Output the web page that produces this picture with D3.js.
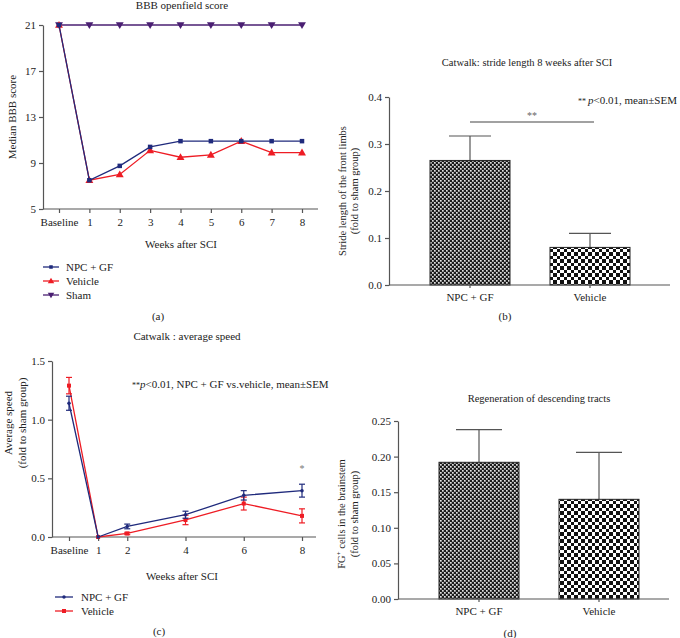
<!DOCTYPE html>
<html><head><meta charset="utf-8">
<script src="https://cdn.jsdelivr.net/npm/d3@7"></script>
<style>
html,body{margin:0;padding:0;background:#fff;}
svg text{font-family:"Liberation Serif","DejaVu Serif",serif;fill:#222;}
</style></head>
<body><svg id="c" width="680" height="638"></svg>
<script>
// ---------- DATA ----------
// Panel (a) BBB openfield score
const bbbWeeks = [0,1,2,3,4,5,6,7,8];
const bbbTickLabels = ["Baseline","1","2","3","4","5","6","7","8"];
const bbbNPC = [21,7.5,8.75,10.4,10.9,10.9,10.9,10.9,10.9];
const bbbVehicle = [21,7.5,8.0,10.1,9.5,9.7,10.9,9.9,9.9];
const bbbSham = [21,21,21,21,21,21,21,21,21];
const bbbYTicks = [5,9,13,17,21];

// Panel (b) stride length
const strideCats = ["NPC + GF","Vehicle"];
const strideMean = [0.265,0.08];
const strideSEM = [0.052,0.03];
const strideYTicks = [0,0.1,0.2,0.3,0.4];

// Panel (c) average speed
const speedWeeks = [0,1,2,4,6,8];
const speedTickLabels = ["Baseline","1","2","4","6","8"];
const speedNPC = [1.14,0,0.09,0.19,0.355,0.395];
const speedNPCsem = [0.06,0,0.02,0.03,0.04,0.055];
const speedVeh = [1.29,0,0.03,0.145,0.285,0.18];
const speedVehSem = [0.07,0,0.01,0.04,0.055,0.06];
const speedYTicks = [0,0.5,1.0,1.5];

// Panel (d) regeneration
const regenCats = ["NPC + GF","Vehicle"];
const regenMean = [0.192,0.14];
const regenSEM = [0.046,0.066];
const regenYTicks = [0,0.05,0.10,0.15,0.20,0.25];

// ---------- STYLE ----------
const cNPC = "#1f2a7c", cVeh = "#ee1c24", cSham = "#4a1f72";
const axisCol = "#555";
const svg = d3.select("#c");

const defs = svg.append("defs");
const pFine = defs.append("pattern").attr("id","pFine").attr("patternUnits","userSpaceOnUse").attr("width",4).attr("height",4);
pFine.append("rect").attr("width",4).attr("height",4).attr("fill","#1c1c1c");
pFine.append("rect").attr("x",0).attr("y",0).attr("width",1.7).attr("height",1.7).attr("fill","#e0e0e0");
pFine.append("rect").attr("x",2).attr("y",2).attr("width",1.7).attr("height",1.7).attr("fill","#e0e0e0");
const pCoarse = defs.append("pattern").attr("id","pCoarse").attr("patternUnits","userSpaceOnUse").attr("width",7).attr("height",7);
pCoarse.append("rect").attr("width",7).attr("height",7).attr("fill","#fff");
pCoarse.append("rect").attr("x",0).attr("y",0).attr("width",4).attr("height",4).attr("fill","#111");
pCoarse.append("rect").attr("x",4).attr("y",4).attr("width",3).attr("height",3).attr("fill","#111");

function styleAxis(g){
  g.selectAll("path,line").attr("stroke",axisCol).attr("stroke-width",1.2);
  g.selectAll("text").attr("fill","#222").style("font-size","11px").style("font-family","Liberation Serif, serif");
}
function text(x,y,s,opts={}){
  const t = svg.append("text").attr("x",x).attr("y",y).text(s)
    .style("font-size",(opts.size||11)+"px").attr("text-anchor",opts.anchor||"middle");
  if(opts.rot) t.attr("transform",`rotate(-90,${x},${y})`);
  return t;
}
function marker(g, type, x, y, col, s){
  if(type==="square") g.append("rect").attr("x",x-s/2).attr("y",y-s/2).attr("width",s).attr("height",s).attr("fill",col);
  else if(type==="circle") g.append("circle").attr("cx",x).attr("cy",y).attr("r",s/2).attr("fill",col);
  else if(type==="tri") g.append("path").attr("d",d3.symbol(d3.symbolTriangle, s*s*0.9)()).attr("transform",`translate(${x},${y+0.5})`).attr("fill",col);
  else if(type==="triDown") g.append("path").attr("d",d3.symbol(d3.symbolTriangle, s*s*0.9)()).attr("transform",`translate(${x},${y-0.5}) rotate(180)`).attr("fill",col);
}

// ---------- PANEL A ----------
(function(){
  const x = d3.scaleLinear().domain([0,8]).range([59,302]);
  const y = d3.scaleLinear().domain([5,21]).range([209,25]);
  const ax = svg.append("g").attr("transform","translate(0,209)")
    .call(d3.axisBottom(x).tickValues(bbbWeeks).tickFormat((d,i)=>bbbTickLabels[i]).tickSize(4).tickPadding(5));
  ax.select(".domain").remove();
  ax.append("line").attr("x1",43).attr("x2",318).attr("y1",0).attr("y2",0);
  styleAxis(ax);
  const ay = svg.append("g").attr("transform","translate(43,0)")
    .call(d3.axisLeft(y).tickValues(bbbYTicks).tickSize(4).tickSizeOuter(0).tickPadding(3));
  styleAxis(ay);
  const line = d3.line().x((d,i)=>x(bbbWeeks[i])).y(d=>y(d));
  const g = svg.append("g");
  [[bbbSham,cSham,"triDown",5.5],[bbbVehicle,cVeh,"tri",5.5],[bbbNPC,cNPC,"square",4.5]].forEach(([vals,col,m,s])=>{
    g.append("path").datum(vals).attr("d",line).attr("fill","none").attr("stroke",col).attr("stroke-width",1.3);
    vals.forEach((v,i)=>marker(g,m,x(bbbWeeks[i]),y(v),col,s));
  });
  text(182,9,"BBB openfield score");
  text(16,117,"Median BBB score",{rot:true});
  text(181,248,"Weeks after SCI");
  const leg = [["NPC + GF",cNPC,"square",3.5],["Vehicle",cVeh,"tri",4.5],["Sham",cSham,"triDown",4.5]];
  leg.forEach(([n,col,m,s],i)=>{
    const yy = 267+i*14;
    svg.append("line").attr("x1",43).attr("x2",59).attr("y1",yy).attr("y2",yy).attr("stroke",col).attr("stroke-width",1.3);
    marker(svg,m,51,yy,col,s);
    text(66,yy+4,n,{anchor:"start"});
  });
  text(158,320,"(a)");
})();

// ---------- PANEL B ----------
(function(){
  const x = d3.scaleBand().domain(strideCats).range([410,650]).paddingInner(1/3).paddingOuter(1/6);
  const y = d3.scaleLinear().domain([0,0.4]).range([285,97]);
  const g = svg.append("g");
  strideCats.forEach((c,i)=>{
    const cx = x(c)+x.bandwidth()/2;
    g.append("line").attr("x1",cx).attr("x2",cx).attr("y1",y(strideMean[i])).attr("y2",y(strideMean[i]+strideSEM[i])).attr("stroke","#555").attr("stroke-width",1.2);
    g.append("line").attr("x1",cx-21).attr("x2",cx+21).attr("y1",y(strideMean[i]+strideSEM[i])).attr("y2",y(strideMean[i]+strideSEM[i])).attr("stroke","#555").attr("stroke-width",1.2);
    g.append("rect").attr("x",x(c)).attr("y",y(strideMean[i])).attr("width",x.bandwidth()).attr("height",y(0)-y(strideMean[i]))
      .attr("fill",i===0?"url(#pFine)":"url(#pCoarse)").attr("stroke","#222").attr("stroke-width",1);
  });
  const ax = svg.append("g").attr("transform","translate(0,285)")
    .call(d3.axisBottom(x).tickSize(3).tickPadding(5));
  ax.select(".domain").remove();
  ax.append("line").attr("x1",389).attr("x2",670);
  styleAxis(ax);
  const ay = svg.append("g").attr("transform","translate(389,0)")
    .call(d3.axisLeft(y).tickValues(strideYTicks).tickFormat(d3.format(".1f")).tickSize(4).tickSizeOuter(0).tickPadding(3));
  styleAxis(ay);
  // significance
  const x1 = x(strideCats[0])+x.bandwidth()/2, x2 = x(strideCats[1])+x.bandwidth()/2+4;
  svg.append("line").attr("x1",x1).attr("x2",x2).attr("y1",122).attr("y2",122).attr("stroke","#444").attr("stroke-width",1.1);
  text((x1+x2)/2,119,"**",{size:10}).style("fill","#666");
  const ann = svg.append("text").attr("x",677).attr("y",104).attr("text-anchor","end").style("font-size","11px");
  ann.append("tspan").text("** ").style("font-size","8px");
  ann.append("tspan").text("p").style("font-style","italic");
  ann.append("tspan").text("<0.01, mean±SEM");
  text(527,66,"Catwalk: stride length 8 weeks after SCI",{size:10.5});
  text(346,191,"Stride length of the front limbs",{rot:true,size:10.5});
  text(358,191,"(fold to sham group)",{rot:true,size:10.5});
  text(505,320,"(b)");
})();

// ---------- PANEL C ----------
(function(){
  const x = d3.scaleLinear().domain([0,8]).range([69,302]);
  const y = d3.scaleLinear().domain([0,1.5]).range([537,361]);
  const ax = svg.append("g").attr("transform","translate(0,537)")
    .call(d3.axisBottom(x).tickValues(speedWeeks).tickFormat((d,i)=>speedTickLabels[i]).tickSize(4).tickPadding(5));
  ax.select(".domain").remove();
  ax.append("line").attr("x1",52).attr("x2",316);
  styleAxis(ax);
  const ay = svg.append("g").attr("transform","translate(52,0)")
    .call(d3.axisLeft(y).tickValues(speedYTicks).tickFormat(d3.format(".1f")).tickSize(4).tickSizeOuter(0).tickPadding(3));
  styleAxis(ay);
  const line = d3.line().x((d,i)=>x(speedWeeks[i])).y(d=>y(d));
  const g = svg.append("g");
  [[speedVeh,speedVehSem,cVeh,"square",4],[speedNPC,speedNPCsem,cNPC,"circle",3.5]].forEach(([vals,sem,col,m,s])=>{
    g.append("path").datum(vals).attr("d",line).attr("fill","none").attr("stroke",col).attr("stroke-width",1.3);
    vals.forEach((v,i)=>{
      const cx = x(speedWeeks[i]);
      if(sem[i]>0){
        g.append("line").attr("x1",cx).attr("x2",cx).attr("y1",y(v-sem[i])).attr("y2",y(v+sem[i])).attr("stroke",col).attr("stroke-width",1.2);
        [v-sem[i],v+sem[i]].forEach(e=>g.append("line").attr("x1",cx-3).attr("x2",cx+3).attr("y1",y(e)).attr("y2",y(e)).attr("stroke",col).attr("stroke-width",1.2));
      }
      marker(g,m,cx,y(v),col,s);
    });
  });
  text(x(8),472,"*",{size:10}).style("fill","#777");
  const ann = svg.append("text").attr("x",132).attr("y",388).attr("text-anchor","start").style("font-size","11px");
  ann.append("tspan").text("**").style("font-size","8px");
  ann.append("tspan").text("p").style("font-style","italic");
  ann.append("tspan").text("<0.01, NPC + GF vs.vehicle, mean±SEM");
  text(187,340,"Catwalk : average speed");
  text(12,423,"Average speed",{rot:true});
  text(26,423,"(fold to sham group)",{rot:true});
  text(182,580,"Weeks after SCI");
  [["NPC + GF",cNPC,"circle",3.5],["Vehicle",cVeh,"square",4]].forEach(([n,col,m,s],i)=>{
    const yy = 597+i*14;
    svg.append("line").attr("x1",55).attr("x2",73).attr("y1",yy).attr("y2",yy).attr("stroke",col).attr("stroke-width",1.3);
    marker(svg,m,64,yy,col,s);
    text(81,yy+4,n,{anchor:"start"});
  });
  text(159,635,"(c)");
})();

// ---------- PANEL D ----------
(function(){
  const x = d3.scaleBand().domain(regenCats).range([419,659]).paddingInner(1/3).paddingOuter(1/6);
  const y = d3.scaleLinear().domain([0,0.25]).range([599,421]);
  const g = svg.append("g");
  regenCats.forEach((c,i)=>{
    const cx = x(c)+x.bandwidth()/2;
    const top = regenMean[i]+regenSEM[i];
    g.append("line").attr("x1",cx).attr("x2",cx).attr("y1",y(regenMean[i])).attr("y2",y(top)).attr("stroke","#555").attr("stroke-width",1.2);
    g.append("line").attr("x1",cx-23).attr("x2",cx+23).attr("y1",y(top)).attr("y2",y(top)).attr("stroke","#555").attr("stroke-width",1.2);
    g.append("rect").attr("x",x(c)).attr("y",y(regenMean[i])).attr("width",x.bandwidth()).attr("height",y(0)-y(regenMean[i]))
      .attr("fill",i===0?"url(#pFine)":"url(#pCoarse)").attr("stroke","#222").attr("stroke-width",1);
  });
  const ax = svg.append("g").attr("transform","translate(0,599)")
    .call(d3.axisBottom(x).tickSize(3).tickPadding(5));
  ax.select(".domain").remove();
  ax.append("line").attr("x1",398).attr("x2",669);
  styleAxis(ax);
  const ay = svg.append("g").attr("transform","translate(398,0)")
    .call(d3.axisLeft(y).tickValues(regenYTicks).tickFormat(d3.format(".2f")).tickSize(4).tickSizeOuter(0).tickPadding(3));
  styleAxis(ay);
  text(539,402,"Regeneration of descending tracts",{size:10.5});
  const yl = svg.append("text").attr("x",345).attr("y",514).attr("text-anchor","middle").style("font-size","10.5px")
    .attr("transform","rotate(-90,345,514)");
  yl.append("tspan").text("FG");
  yl.append("tspan").text("+").attr("dy",-4).style("font-size","7px");
  yl.append("tspan").text(" cells in the brainstem").attr("dy",4);
  text(358,514,"(fold to sham group)",{rot:true,size:10.5});
  text(510,637,"(d)");
})();
</script></body></html>
